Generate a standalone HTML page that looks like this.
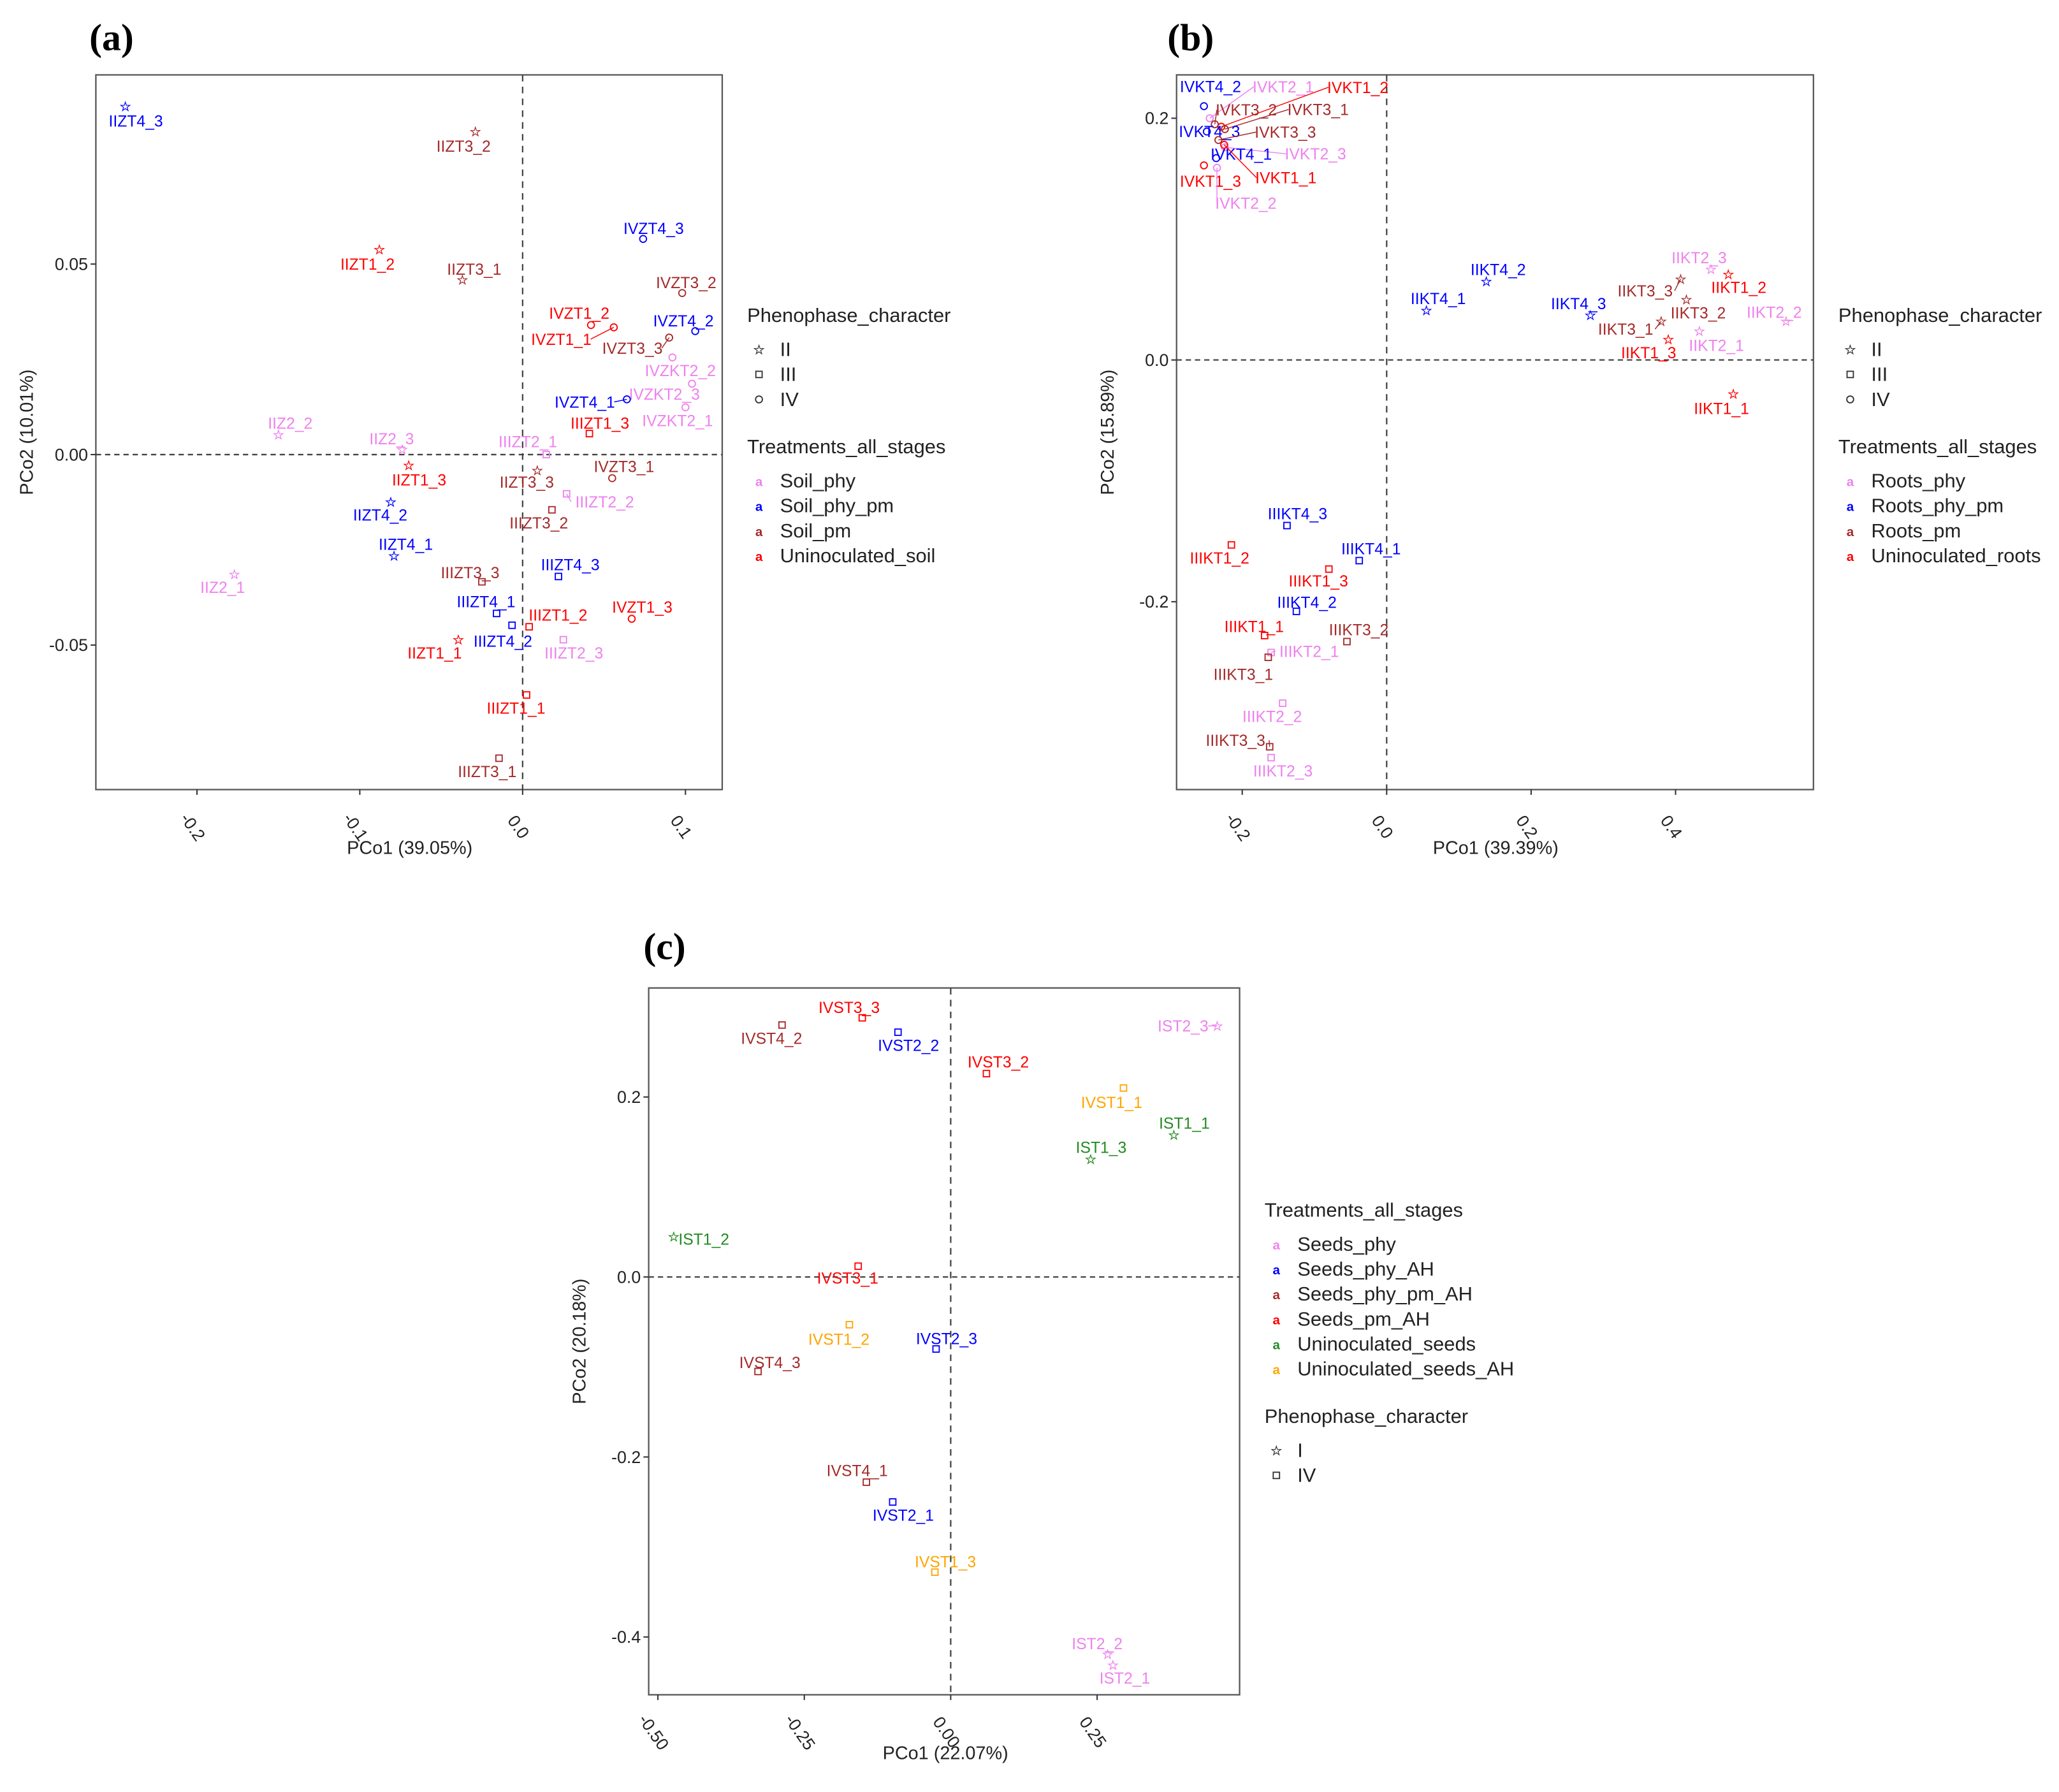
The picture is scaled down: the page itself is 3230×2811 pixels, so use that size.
<!DOCTYPE html>
<html><head><meta charset="utf-8"><style>
html,body{margin:0;padding:0;background:#fff;}
svg{display:block;}
</style></head><body>
<svg id="fig" xmlns="http://www.w3.org/2000/svg" width="3230" height="2811" viewBox="0 0 1568 1364" preserveAspectRatio="none" font-family="Liberation Sans, sans-serif"></svg>
<script>
const NS="http://www.w3.org/2000/svg";
const svg=document.getElementById('fig');
const COL={phy:'#ee82ee',phypm:'#0000ff',pm:'#a52a2a',un:'#ff0000',gr:'#228b22',or:'#ffa500'};

// ---------- Panel (a) data ----------
const aLabels=["IIZT4_3","IIZT3_2","IIZT1_2","IIZT3_1","IVZT4_3","IVZT3_2","IVZT1_2","IVZT1_1","IVZT4_2","IVZT3_3","IVZKT2_2","IVZKT2_3","IVZKT2_1","IVZT4_1","IIIZT1_3","IIZ2_2","IIZ2_3","IIIZT2_1","IIZT1_3","IIZT3_3","IVZT3_1","IIIZT2_2","IIIZT3_2","IIZT4_2","IIZT4_1","IIZ2_1","IIIZT3_3","IIIZT4_3","IIIZT4_1","IVZT1_3","IIIZT1_2","IIIZT4_2","IIIZT2_3","IIZT1_1","IIIZT1_1","IIIZT3_1"];
const aX=[-0.244,-0.029,-0.088,-0.037,0.074,0.098,0.042,0.056,0.106,0.090,0.092,0.104,0.100,0.064,0.041,-0.150,-0.074,0.0145,-0.070,0.009,0.055,0.027,0.018,-0.081,-0.079,-0.177,-0.025,0.022,-0.016,0.067,0.004,-0.0065,0.025,-0.0395,0.0024,-0.0145];
const aY=[0.0914,0.0848,0.0538,0.0459,0.0566,0.0424,0.034,0.0334,0.0324,0.0307,0.0255,0.0186,0.0124,0.0145,0.0055,0.0052,0.0014,0.0,-0.0028,-0.0041,-0.0062,-0.0103,-0.0145,-0.0124,-0.0266,-0.0314,-0.0334,-0.032,-0.0417,-0.0431,-0.0452,-0.0448,-0.0486,-0.0486,-0.0631,-0.0797];
const aGroup=["phypm","pm","un","pm","phypm","pm","un","un","phypm","pm","phy","phy","phy","phypm","un","phy","phy","phy","un","pm","pm","phy","pm","phypm","phypm","phy","pm","phypm","phypm","un","un","phypm","phy","un","un","pm"];
const aShape=["s","s","s","s","c","c","c","c","c","c","c","c","c","c","q","s","s","q","s","s","c","q","q","s","s","s","q","q","q","c","q","q","q","s","q","q"];
const aDx=[8,-9,-9,9,8,3,-9,-40,-9,-28,6,-21,-6,-32,8,9,-8,-14,8,-8,9,29,-10,-8,9,-9,-9,9,-8,8,22,-7,8,-18,-8,-9];
const aDy=[11,11,11,-8,-8,-8,-9,9,-8,8,10,8,10,2,-8,-9,-8,-10,11,9,-9,6,10,10,-9,10,-7,-9,-9,-9,-9,12,10,10,10,10];
const aXTicks=[-0.2,-0.1,0.0,0.1];
const aXTickLabels=["-0.2","-0.1","0.0","0.1"];
const aYTicks=[0.05,0.0,-0.05];
const aYTickLabels=["0.05","0.00","-0.05"];

// ---------- Panel (b) data ----------
const bLabels=["IVKT4_2","IVKT2_1","IVKT1_2","IVKT3_2","IVKT3_1","IVKT4_3","IVKT3_3","IVKT2_3","IVKT4_1","IVKT1_1","IVKT1_3","IVKT2_2","IIKT4_2","IIKT4_1","IIKT4_3","IIKT2_3","IIKT1_2","IIKT3_3","IIKT3_2","IIKT2_2","IIKT3_1","IIKT2_1","IIKT1_3","IIKT1_1","IIIKT4_3","IIIKT1_2","IIIKT4_1","IIIKT1_3","IIIKT4_2","IIIKT1_1","IIIKT3_2","IIIKT2_1","IIIKT3_1","IIIKT2_2","IIIKT3_3","IIIKT2_3"];
const bX=[-0.253,-0.245,-0.229,-0.238,-0.224,-0.249,-0.233,-0.224,-0.236,-0.225,-0.253,-0.235,0.138,0.055,0.282,0.449,0.473,0.407,0.415,0.553,0.38,0.433,0.39,0.48,-0.138,-0.215,-0.038,-0.08,-0.125,-0.169,-0.055,-0.16,-0.164,-0.144,-0.162,-0.16];
const bY=[0.210,0.200,0.193,0.195,0.191,0.189,0.182,0.176,0.167,0.178,0.161,0.159,0.065,0.041,0.037,0.075,0.071,0.067,0.050,0.032,0.032,0.024,0.017,-0.028,-0.137,-0.153,-0.166,-0.173,-0.208,-0.228,-0.233,-0.242,-0.246,-0.284,-0.320,-0.329];
const bGroup=["phypm","phy","un","pm","pm","phypm","pm","phy","phypm","un","un","phy","phypm","phypm","phypm","phy","un","pm","pm","phy","pm","phy","un","un","phypm","un","phypm","un","phypm","un","pm","phy","pm","phy","pm","phy"];
const bShape=["c","c","c","c","c","c","c","c","c","c","c","c","s","s","s","s","s","s","s","s","s","s","s","s","q","q","q","q","q","q","q","q","q","q","q","q"];
const bDx=[5,56,104,24,71,2,51,69,19,47,5,22,9,9,-9,-9,8,-27,9,-9,-27,13,-15,-9,8,-9,9,-8,8,-8,9,29,-19,-8,-26,9];
const bDy=[-15,-24,-30,-11,-15,0,-6,5,-3,25,12,27,-9,-9,-9,-9,10,9,10,-7,6,11,10,11,-9,10,-9,9,-7,-7,-9,-1,13,10,-5,10];
const bXTicks=[-0.2,0.0,0.2,0.4];
const bXTickLabels=["-0.2","0.0","0.2","0.4"];
const bYTicks=[0.2,0.0,-0.2];
const bYTickLabels=["0.2","0.0","-0.2"];

// ---------- Panel (c) data ----------
const cLabels=["IVST3_3","IVST4_2","IVST2_2","IVST3_2","IST2_3","IVST1_1","IST1_1","IST1_3","IST1_2","IVST3_1","IVST1_2","IVST2_3","IVST4_3","IVST4_1","IVST2_1","IVST1_3","IST2_2","IST2_1"];
const cX=[-0.151,-0.288,-0.090,0.061,0.455,0.295,0.381,0.239,-0.473,-0.158,-0.173,-0.025,-0.329,-0.144,-0.099,-0.027,0.268,0.277];
const cY=[0.288,0.280,0.272,0.226,0.279,0.210,0.158,0.131,0.045,0.012,-0.053,-0.080,-0.105,-0.228,-0.250,-0.328,-0.419,-0.431];
const cGroup=["un","pm","phypm","un","phy","or","gr","gr","gr","un","or","phypm","pm","pm","phypm","or","phy","phy"];
const cShape=["q","q","q","q","s","q","s","s","s","q","q","q","q","q","q","q","s","s"];
const cDx=[-10,-8,8,9,-26,-9,8,8,23,-8,-8,8,9,-7,8,8,-8,9];
const cDy=[-8,10,10,-9,0,11,-9,-9,2,9,11,-8,-7,-9,10,-8,-8,10];
const cXTicks=[-0.5,-0.25,0.0,0.25];
const cXTickLabels=["-0.50","-0.25","0.00","0.25"];
const cYTicks=[0.2,0.0,-0.2,-0.4];
const cYTickLabels=["0.2","0.0","-0.2","-0.4"];

function el(tag,attrs,parent){const e=document.createElementNS(NS,tag);for(const k in attrs)e.setAttribute(k,attrs[k]);(parent||svg).appendChild(e);return e;}
function txt(s,attrs,parent){const e=el('text',attrs,parent);e.textContent=s;return e;}

function marker(g,shape,x,y,col){
  let m;
  if(shape==='c'){m=el('circle',{cx:x,cy:y,r:2.6,fill:'none',stroke:col,'stroke-width':0.9},g);}
  else if(shape==='q'){m=el('rect',{x:x-2.4,y:y-2.4,width:4.8,height:4.8,fill:'none',stroke:col,'stroke-width':0.9},g);}
  else {m=txt('☆',{x:x,y:y+3.5,'font-size':10,fill:col,'text-anchor':'middle','font-family':'DejaVu Sans','stroke':col,'stroke-width':0.3},g);}
  return m;
}

function panel(name,f,xr,yr,labels,xs,ys,grp,shp,dxs,dys,xt,xtl,yt,ytl,xTitle,xTitleX,yTitle,letter,letterPos){
  const g=el('g',{});
  
  
  const sx=v=>f.x0px+(v)*xr; const sy=v=>f.y0px-(v)*yr;
  const fr=el('rect',{x:f.l,y:f.t,width:f.r-f.l,height:f.b-f.t,fill:'none',stroke:'#555','stroke-width':1.1},g);
  
  el('line',{x1:f.l,x2:f.r,y1:sy(0),y2:sy(0),stroke:'#444','stroke-dasharray':'4,3','stroke-width':1.1},g);
  el('line',{x1:sx(0),x2:sx(0),y1:f.t,y2:f.b,stroke:'#444','stroke-dasharray':'5,4','stroke-width':1.1},g);
  xt.forEach((v,i)=>{const x=sx(v);el('line',{x1:x,x2:x,y1:f.b,y2:f.b+4,stroke:'#333'},g);
    const cx=x-4, cy=f.b+29;
    const t=txt(xtl[i],{x:cx,y:cy,'font-size':13,fill:'#222','text-anchor':'middle','dominant-baseline':'middle',transform:`rotate(55 ${cx} ${cy})`},g);
    });
  yt.forEach((v,i)=>{const y=sy(v);el('line',{x1:f.l-4,x2:f.l,y1:y,y2:y,stroke:'#333'},g);
    const t=txt(ytl[i],{x:f.l-6,y:y+4.5,'font-size':13,fill:'#222','text-anchor':'end'},g);
    });
  const xtT=txt(xTitle,{x:xTitleX,y:f.b+49,'font-size':14,fill:'#222','text-anchor':'middle'},g);
  
  const yc=(f.t+f.b)/2, yx=f.l-48;
  const ytT=txt(yTitle,{x:yx,y:yc,'font-size':14,fill:'#222','text-anchor':'middle',transform:`rotate(-90 ${yx} ${yc})`},g);
  
  const lt=txt(letter,{x:letterPos[0],y:letterPos[1],'font-size':29,'font-weight':'bold','font-family':'Liberation Serif, serif',fill:'#000'},g);
  
  labels.forEach((lab,i)=>{
    const x=sx(xs[i]),y=sy(ys[i]),col=COL[grp[i]];
    const lx=x+dxs[i],ly=y+dys[i];
    if(Math.hypot(dxs[i],dys[i])>24){el('line',{x1:x,y1:y,x2:lx-Math.sign(dxs[i])*Math.min(Math.abs(dxs[i]),lab.length*3.2),y2:ly,stroke:col,'stroke-width':0.7},g);}
    const m=marker(g,shp[i],x,y,col);
    
    
    const t=txt(lab,{x:lx,y:ly+4.3,'font-size':12,fill:col,'text-anchor':'middle'},g);
    
    
  });
  return g;
}

function legend(name,x,title,y0,items,step){
  const g=el('g',{});
  
  
  const t=txt(title,{x:x,y:y0,'font-size':15,fill:'#222'},g);
  
  items.forEach((it,i)=>{
    const y=y0+21+i*step;
    let gl;
    if(it.sym==='a'){gl=txt('a',{x:x+9,y:y+4,'font-size':10,fill:it.col,'text-anchor':'middle','font-weight':'bold'},g);}
    else gl=marker(g,it.sym,x+9,y,'#333');
    const tt=txt(it.label,{x:x+25,y:y+5,'font-size':15,fill:'#222'},g);
    
    
  });
}

panel('panel-a-soil',{l:73,r:550,t:57,b:601,x0px:398,y0px:346},1240,2900,aLabels,aX,aY,aGroup,aShape,aDx,aDy,aXTicks,aXTickLabels,aYTicks,aYTickLabels,'PCo1 (39.05%)',312,'PCo2 (10.01%)','(a)',[68,38]);
panel('panel-b-roots',{l:896,r:1381,t:57,b:601,x0px:1056,y0px:274},550,920,bLabels,bX,bY,bGroup,bShape,bDx,bDy,bXTicks,bXTickLabels,bYTicks,bYTickLabels,'PCo1 (39.39%)',1139,'PCo2 (15.89%)','(b)',[889,38]);
panel('panel-c-seeds',{l:494,r:944,t:752,b:1290,x0px:724,y0px:972},446,685,cLabels,cX,cY,cGroup,cShape,cDx,cDy,cXTicks,cXTickLabels,cYTicks,cYTickLabels,'PCo1 (22.07%)',720,'PCo2 (20.18%)','(c)',[490,730]);

legend('legend-a-phenophase',569,'Phenophase_character',245,[{sym:'s',label:'II'},{sym:'q',label:'III'},{sym:'c',label:'IV'}],19);
legend('legend-a-treatments',569,'Treatments_all_stages',345,[{sym:'a',col:COL.phy,label:'Soil_phy'},{sym:'a',col:COL.phypm,label:'Soil_phy_pm'},{sym:'a',col:COL.pm,label:'Soil_pm'},{sym:'a',col:COL.un,label:'Uninoculated_soil'}],19);
legend('legend-b-phenophase',1400,'Phenophase_character',245,[{sym:'s',label:'II'},{sym:'q',label:'III'},{sym:'c',label:'IV'}],19);
legend('legend-b-treatments',1400,'Treatments_all_stages',345,[{sym:'a',col:COL.phy,label:'Roots_phy'},{sym:'a',col:COL.phypm,label:'Roots_phy_pm'},{sym:'a',col:COL.pm,label:'Roots_pm'},{sym:'a',col:COL.un,label:'Uninoculated_roots'}],19);
legend('legend-c-treatments',963,'Treatments_all_stages',926,[{sym:'a',col:COL.phy,label:'Seeds_phy'},{sym:'a',col:COL.phypm,label:'Seeds_phy_AH'},{sym:'a',col:COL.pm,label:'Seeds_phy_pm_AH'},{sym:'a',col:COL.un,label:'Seeds_pm_AH'},{sym:'a',col:COL.gr,label:'Uninoculated_seeds'},{sym:'a',col:COL.or,label:'Uninoculated_seeds_AH'}],19);
legend('legend-c-phenophase',963,'Phenophase_character',1083,[{sym:'s',label:'I'},{sym:'q',label:'IV'}],19);
</script>
</body></html>
